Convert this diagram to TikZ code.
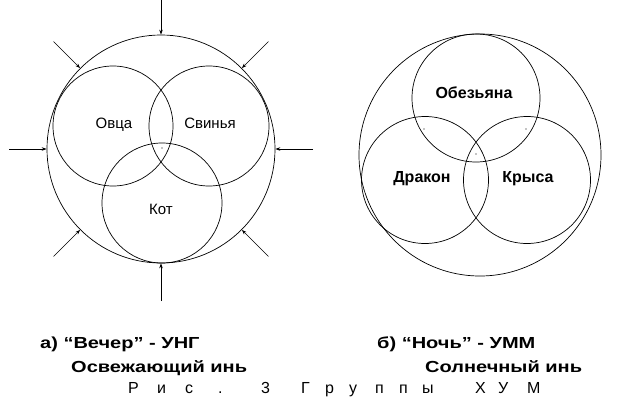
\documentclass[tikz,border=0pt]{standalone}
\usepackage{fontspec}
\setmainfont{Liberation Sans}
\usetikzlibrary{arrows.meta,calc}
\newcommand\tch[2]{\makebox[#1pt][l]{#2}}
\newcommand\wide[1]{\scalebox{1.25}[1]{#1}}
\begin{document}
\begin{tikzpicture}[x=1pt,y=-1pt,
  ring/.style={circle,draw,line width=0.7pt,inner sep=0pt},
  lab/.style={anchor=base,inner sep=0pt,font=\fontsize{15}{18}\selectfont},
  blab/.style={anchor=base,inner sep=0pt,font=\fontsize{16}{19}\selectfont\bfseries},
  captext/.style={anchor=base west,inner sep=0pt,font=\fontsize{16}{19}\selectfont\bfseries},
  inarrow/.style={line width=0.6pt,-{Stealth[length=5pt,width=3.5pt]}},
  dotm/.style={circle,fill,inner sep=0pt,minimum size=1.3pt}]
\useasboundingbox[fill=white] (0,0) rectangle (618,412);
% left diagram
\node[ring,minimum size=228pt] (A) at (161,149) {};
\node[ring,minimum size=120pt] (ov) at (113,126) {};
\node[ring,minimum size=120pt] (sv) at (209,126) {};
\node[ring,minimum size=120pt] (kt) at (162,203) {};
\node[lab] (tov) at (114,128) {Овца};
\node[lab] (tsv) at (210,128) {Свинья};
\node[lab] (tkt) at (161,214) {Кот};
\node[dotm] (dA) at (162,148) {};
\foreach \a in {0,45,...,315}{
  \coordinate (s\a) at ($(A.center)!152pt!(A.\a)$);
  \draw[inarrow] (s\a) -- (A.\a);
}
% right diagram
\node[ring,minimum size=242pt] (B) at (480,155) {};
\node[ring,minimum size=128pt] (ob) at (476,98) {};
\node[ring,minimum size=127pt] (dr) at (425,180) {};
\node[ring,minimum size=127pt] (kr) at (527,180) {};
\node[blab] (tob) at (474,98) {Обезьяна};
\node[blab] (tdr) at (422,182) {Дракон};
\node[blab] (tkr) at (528,182) {Крыса};
\node[dotm] (d1) at (424,129) {};
\node[dotm] (d2) at (526,129) {};
\node[dotm] (d3) at (476,154) {};
% captions
\node[captext] (c1) at (40,348) {\wide{а) “Вечер” - УНГ}};
\node[captext] (c2) at (71,372.5) {\wide{Освежающий инь}};
\node[captext] (c3) at (377,348) {\wide{б) “Ночь” - УММ}};
\node[captext] (c4) at (425,372.5) {\wide{Солнечный инь}};
\node[anchor=base west,inner sep=0pt,font=\fontsize{16}{19}\selectfont] (title) at (128,393.3)
  {\tch{29}{Р}\tch{28}{и}\tch{33}{с}\tch{43}{.}\tch{40}{3}\tch{24}{Г}\tch{24}{р}\tch{26}{у}\tch{24}{п}\tch{23}{п}\tch{53}{ы}\tch{23}{Х}\tch{29}{У}М};
\end{tikzpicture}
\end{document}
